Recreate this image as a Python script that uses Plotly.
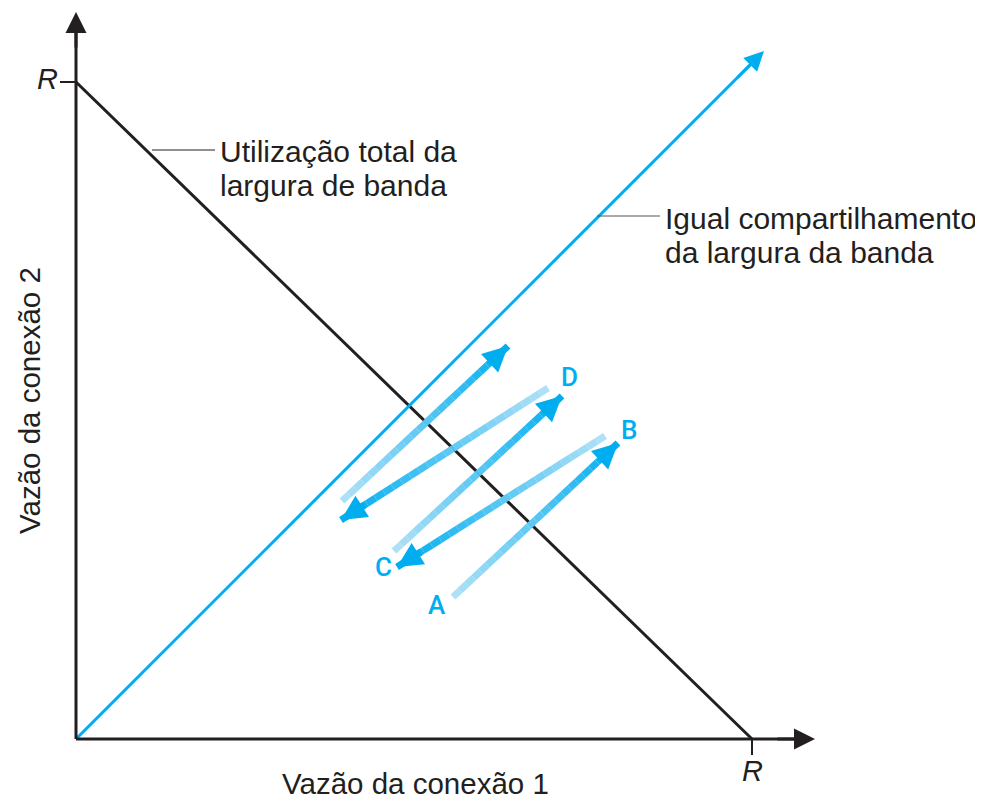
import numpy as np
import plotly.graph_objects as go

# diagram units: 1 unit = 1 px, origin where the two axes meet
R_X = 676
R_Y = 657

# zig-zag arrows (start -> end)
arrow_x0 = [377, 529, 318, 472, 266]
arrow_y0 = [142, 303, 188, 351, 238]
arrow_x1 = [542, 321, 486, 265, 432]
arrow_y1 = [296, 172, 343, 219, 393]

point_labels = ['A', 'B', 'C', 'D']
point_x = [361, 553, 307, 493]
point_y = [134, 309, 172, 362]

BLACK = '#231f20'
BLUE = '#00aeef'
LIGHT = (178, 225, 247)
DARK = (0, 174, 239)
FONT = 'Liberation Sans, Arial, sans-serif'

fig = go.Figure()
shapes = []
annotations = []

# full-bandwidth line x + y = R
fig.add_trace(go.Scatter(x=[0, R_X], y=[R_Y, 0], mode='lines',
                         line=dict(color=BLACK, width=3), hoverinfo='skip'))
# equal share line
fig.add_trace(go.Scatter(x=[0, 680], y=[0, 680], mode='lines',
                         line=dict(color=BLUE, width=3), hoverinfo='skip'))
annotations.append(dict(x=688, y=688, ax=660, ay=660, xref='x', yref='y', axref='x', ayref='y',
                        showarrow=True, arrowhead=2, arrowsize=1.3, arrowwidth=3, arrowcolor=BLUE, text=''))

# axes
shapes.append(dict(type='line', x0=0, y0=0, x1=720, y1=0, line=dict(color=BLACK, width=3)))
shapes.append(dict(type='line', x0=0, y0=0, x1=0, y1=710, line=dict(color=BLACK, width=3)))
annotations.append(dict(x=739, y=0, ax=700, ay=0, xref='x', yref='y', axref='x', ayref='y',
                        showarrow=True, arrowhead=2, arrowsize=1.4, arrowwidth=3, arrowcolor=BLACK, text=''))
annotations.append(dict(x=0, y=727, ax=0, ay=690, xref='x', yref='y', axref='x', ayref='y',
                        showarrow=True, arrowhead=2, arrowsize=1.4, arrowwidth=3, arrowcolor=BLACK, text=''))
# R ticks
shapes.append(dict(type='line', x0=-16, y0=R_Y, x1=0, y1=R_Y, line=dict(color=BLACK, width=2)))
shapes.append(dict(type='line', x0=R_X, y0=0, x1=R_X, y1=-16, line=dict(color=BLACK, width=2)))
annotations.append(dict(x=-29, y=R_Y + 3, text='<i>R</i>', showarrow=False,
                        font=dict(size=29, color=BLACK, family=FONT)))
annotations.append(dict(x=R_X, y=-32, text='<i>R</i>', showarrow=False,
                        font=dict(size=29, color=BLACK, family=FONT)))

# gradient arrows, drawn as short segments from light to dark
n_seg = 24
for x0, y0, x1, y1 in zip(arrow_x0, arrow_y0, arrow_x1, arrow_y1):
    t = np.linspace(0, 1, n_seg + 1)
    for i in range(n_seg):
        f = (i + 0.5) / n_seg
        c = tuple(int(round(LIGHT[k] + (DARK[k] - LIGHT[k]) * f)) for k in range(3))
        shapes.append(dict(type='line',
                           x0=x0 + (x1 - x0) * t[i], y0=y0 + (y1 - y0) * t[i],
                           x1=x0 + (x1 - x0) * t[i + 1], y1=y0 + (y1 - y0) * t[i + 1],
                           line=dict(color='rgb(%d,%d,%d)' % c, width=7)))
    annotations.append(dict(x=x1, y=y1, ax=x1 - (x1 - x0) * 0.12, ay=y1 - (y1 - y0) * 0.12,
                            xref='x', yref='y', axref='x', ayref='y', showarrow=True,
                            arrowhead=2, arrowsize=0.72, arrowwidth=7, arrowcolor=BLUE, text=''))

for lab, px_, py_ in zip(point_labels, point_x, point_y):
    annotations.append(dict(x=px_, y=py_, text=lab, showarrow=False,
                            font=dict(size=26, color=BLUE, family='Roboto, ' + FONT, weight=500)))

# callouts
shapes.append(dict(type='line', x0=76, y0=589, x1=139, y1=589, line=dict(color=BLACK, width=1)))
shapes.append(dict(type='line', x0=521, y0=523, x1=584, y1=523, line=dict(color='#555555', width=1)))
callout_lines = [
    (142, 588, 'Utilização total da'),
    (142, 554, 'largura de banda'),
    (587, 521, 'Igual compartilhamento'),
    (587, 487, 'da largura da banda'),
]
for cx, cy, txt in callout_lines:
    annotations.append(dict(x=cx, y=cy, text=txt, showarrow=False, xanchor='left', yanchor='middle',
                            font=dict(size=30, color=BLACK, family=FONT)))

# axis titles
annotations.append(dict(x=339, y=-44, text='Vazão da conexão 1', showarrow=False,
                        font=dict(size=29.5, color=BLACK, family=FONT)))
annotations.append(dict(x=-47, y=338, text='Vazão da conexão 2', showarrow=False, textangle=-90,
                        font=dict(size=29.5, color=BLACK, family=FONT)))

fig.update_layout(
    width=983, height=799, autosize=False,
    margin=dict(l=0, r=0, t=0, b=0),
    paper_bgcolor='white', plot_bgcolor='white',
    showlegend=False,
    xaxis=dict(range=[-68, 915], visible=False, fixedrange=True),
    yaxis=dict(range=[-68, 731], visible=False, fixedrange=True),
    shapes=shapes,
    annotations=annotations,
)

fig.write_html("out.html")
